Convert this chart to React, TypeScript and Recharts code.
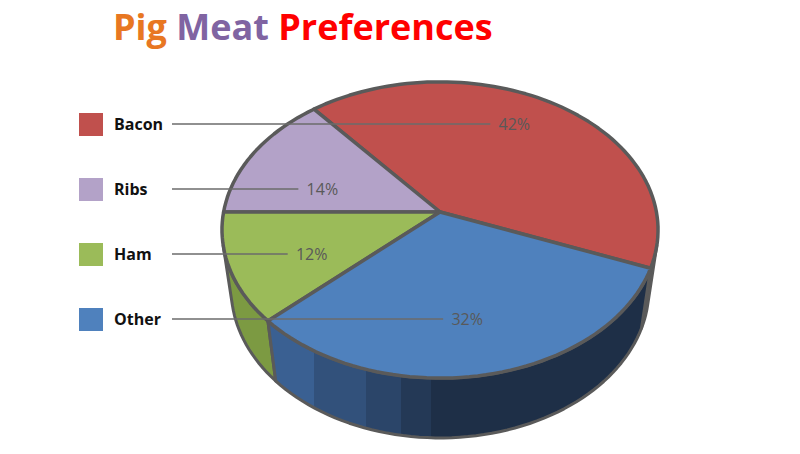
import { Cell, Pie, PieChart } from 'recharts';

const names = ['Bacon', 'Ribs', 'Ham', 'Other'];
const shares = [42, 14, 12, 32]; // percent

const TOP_COLORS = ['#c0504d', '#b3a2c8', '#9bbb59', '#4f81bd'];
const SIDE_LIGHT = ['#6e2e2c', '#84779a', '#7c9a42', '#3a6092'];
const SIDE_DARK = ['#3a2430', '#574d66', '#5f7a32', '#1e2f47'];
const STROKE = '#5a5a5a';

// faceted shading of the wall: [from, to, mix toward dark]
const BANDS = [
  [0, 0.21, 0],
  [0.21, 0.33, 0.3],
  [0.33, 0.41, 0.55],
  [0.41, 0.48, 0.8],
  [0.48, 1, 1],
];

// simple perspective camera looking down on the disc (units = pie radius)
const TILT = (42.4 * Math.PI) / 180;
const DIST = 6.08;
const THICK = 0.39;
// side wall faces the camera only where sin(a) < -1 / (DIST * cos(TILT))
const EDGE = (Math.asin(1 / (DIST * Math.cos(TILT))) * 180) / Math.PI;

const data = names.map((name, i) => ({ name, value: shares[i] }));

function mix(c1: string, c2: string, t: number) {
  const a = parseInt(c1.slice(1), 16);
  const b = parseInt(c2.slice(1), 16);
  const ch = (s: number) => Math.round(((a >> s) & 255) * (1 - t) + ((b >> s) & 255) * t);
  return `rgb(${ch(16)},${ch(8)},${ch(0)})`;
}

function project(cx: number, cy: number, r: number, deg: number, k = 1, level = 0) {
  const a = (deg * Math.PI) / 180;
  const X = k * Math.cos(a);
  const Z = k * Math.sin(a);
  const Y = -THICK * level;
  const depth = DIST - Y * Math.sin(TILT) + Z * Math.cos(TILT);
  const up = Y * Math.cos(TILT) + Z * Math.sin(TILT);
  const F = r * DIST;
  return [cx + (F * X) / depth, cy - (F * up) / depth];
}

function arcPts(cx: number, cy: number, r: number, a0: number, a1: number, level = 0) {
  const n = Math.max(2, Math.ceil(Math.abs(a1 - a0) / 2));
  const out: number[][] = [];
  for (let i = 0; i <= n; i++) out.push(project(cx, cy, r, a0 + ((a1 - a0) * i) / n, 1, level));
  return out;
}

const toPath = (pts: number[][]) =>
  'M' + pts.map((p) => p[0].toFixed(1) + ',' + p[1].toFixed(1)).join('L') + 'Z';

function TopSlice(props: any) {
  const { cx, cy, outerRadius, startAngle, endAngle, fill } = props;
  const d = toPath([[cx, cy], ...arcPts(cx, cy, outerRadius, startAngle, endAngle)]);
  return <path d={d} fill={fill} stroke={STROKE} strokeWidth={3.5} strokeLinejoin="round" />;
}

function SideSlice(props: any) {
  const { cx, cy, outerRadius, startAngle, endAngle, payload } = props;
  const i = names.indexOf(payload?.name ?? props.name);
  const id = 'side-grad-' + i;
  const parts: number[][] = [];
  for (const k of [-360, 0, 360]) {
    const a0 = Math.max(startAngle, 180 + EDGE + k);
    const a1 = Math.min(endAngle, 360 - EDGE + k);
    if (a1 > a0) parts.push([a0, a1]);
  }
  return (
    <g>
      <defs>
        <linearGradient id={id} gradientUnits="userSpaceOnUse" x1={cx - outerRadius} x2={cx + outerRadius} y1={0} y2={0}>
          {BANDS.flatMap(([from, to, t]) => [
            <stop key={`a${from}`} offset={from} stopColor={mix(SIDE_LIGHT[i], SIDE_DARK[i], t)} />,
            <stop key={`b${from}`} offset={to} stopColor={mix(SIDE_LIGHT[i], SIDE_DARK[i], t)} />,
          ])}
        </linearGradient>
      </defs>
      {parts.map(([a0, a1]) => {
        const top = arcPts(cx, cy, outerRadius, a0, a1, 0);
        const bottom = arcPts(cx, cy, outerRadius, a1, a0, 1);
        return (
          <path
            key={a0}
            d={toPath([...top, ...bottom])}
            fill={`url(#${id})`}
            stroke={STROKE}
            strokeWidth={3}
            strokeLinejoin="round"
          />
        );
      })}
    </g>
  );
}

const ROW_Y0 = 124;
const ROW_STEP = 65;

function renderLabel(props: any) {
  const { cx, cy, outerRadius, midAngle, percent, index } = props;
  const y = ROW_Y0 + index * ROW_STEP;
  const [x] = project(cx, cy, outerRadius, midAngle, 0.62);
  return (
    <g>
      <line x1={172} x2={x - 24} y1={y} y2={y} stroke="#6b6b6b" strokeWidth={1.5} />
      <text
        x={x}
        y={y}
        textAnchor="middle"
        dominantBaseline="central"
        fill="#595959"
        fontSize={16}
        fontFamily="'Open Sans', sans-serif"
      >
        {`${Math.round(percent * 100)}%`}
      </text>
    </g>
  );
}

function LegendRows() {
  return (
    <div style={{ position: 'absolute', left: 79, top: ROW_Y0 - ROW_STEP / 2, fontFamily: "'Open Sans', sans-serif" }}>
      {names.map((n, i) => (
        <div key={n} style={{ display: 'flex', alignItems: 'center', height: ROW_STEP }}>
          <span style={{ width: 24, height: 23, background: TOP_COLORS[i], display: 'inline-block' }} />
          <span style={{ marginLeft: 11, fontSize: 16, fontWeight: 700, color: '#111' }}>{n}</span>
        </div>
      ))}
    </div>
  );
}

export default function App() {
  return (
    <div style={{ position: 'relative', width: 800, height: 454, background: '#fff' }}>
      <style>{`body{margin:0}`}</style>
      <div
        style={{
          position: 'absolute',
          left: 113,
          top: 6,
          fontFamily: "'Open Sans', sans-serif",
          fontWeight: 700,
          fontSize: 36,
          lineHeight: '42px',
          whiteSpace: 'nowrap',
        }}
      >
        <span style={{ color: '#e87722' }}>Pig</span> <span style={{ color: '#8064a2' }}>Meat</span>{' '}
        <span style={{ color: '#ff0000' }}>Preferences</span>
      </div>
      <PieChart width={800} height={454} margin={{ top: 0, right: 0, bottom: 0, left: 0 }}>
        <Pie
          data={data}
          dataKey="value"
          nameKey="name"
          cx={440}
          cy={212}
          outerRadius={216.4}
          startAngle={-21.6}
          endAngle={338.4}
          isAnimationActive={false}
          shape={SideSlice}
          legendType="none"
          labelLine={false}
        >
          {data.map((d, i) => (
            <Cell key={d.name} fill={SIDE_DARK[i]} />
          ))}
        </Pie>
        <Pie
          data={data}
          dataKey="value"
          nameKey="name"
          cx={440}
          cy={212}
          outerRadius={216.4}
          startAngle={-21.6}
          endAngle={338.4}
          isAnimationActive={false}
          shape={TopSlice}
          label={renderLabel}
          labelLine={false}
        >
          {data.map((d, i) => (
            <Cell key={d.name} fill={TOP_COLORS[i]} />
          ))}
        </Pie>
      </PieChart>
      <LegendRows />
    </div>
  );
}
